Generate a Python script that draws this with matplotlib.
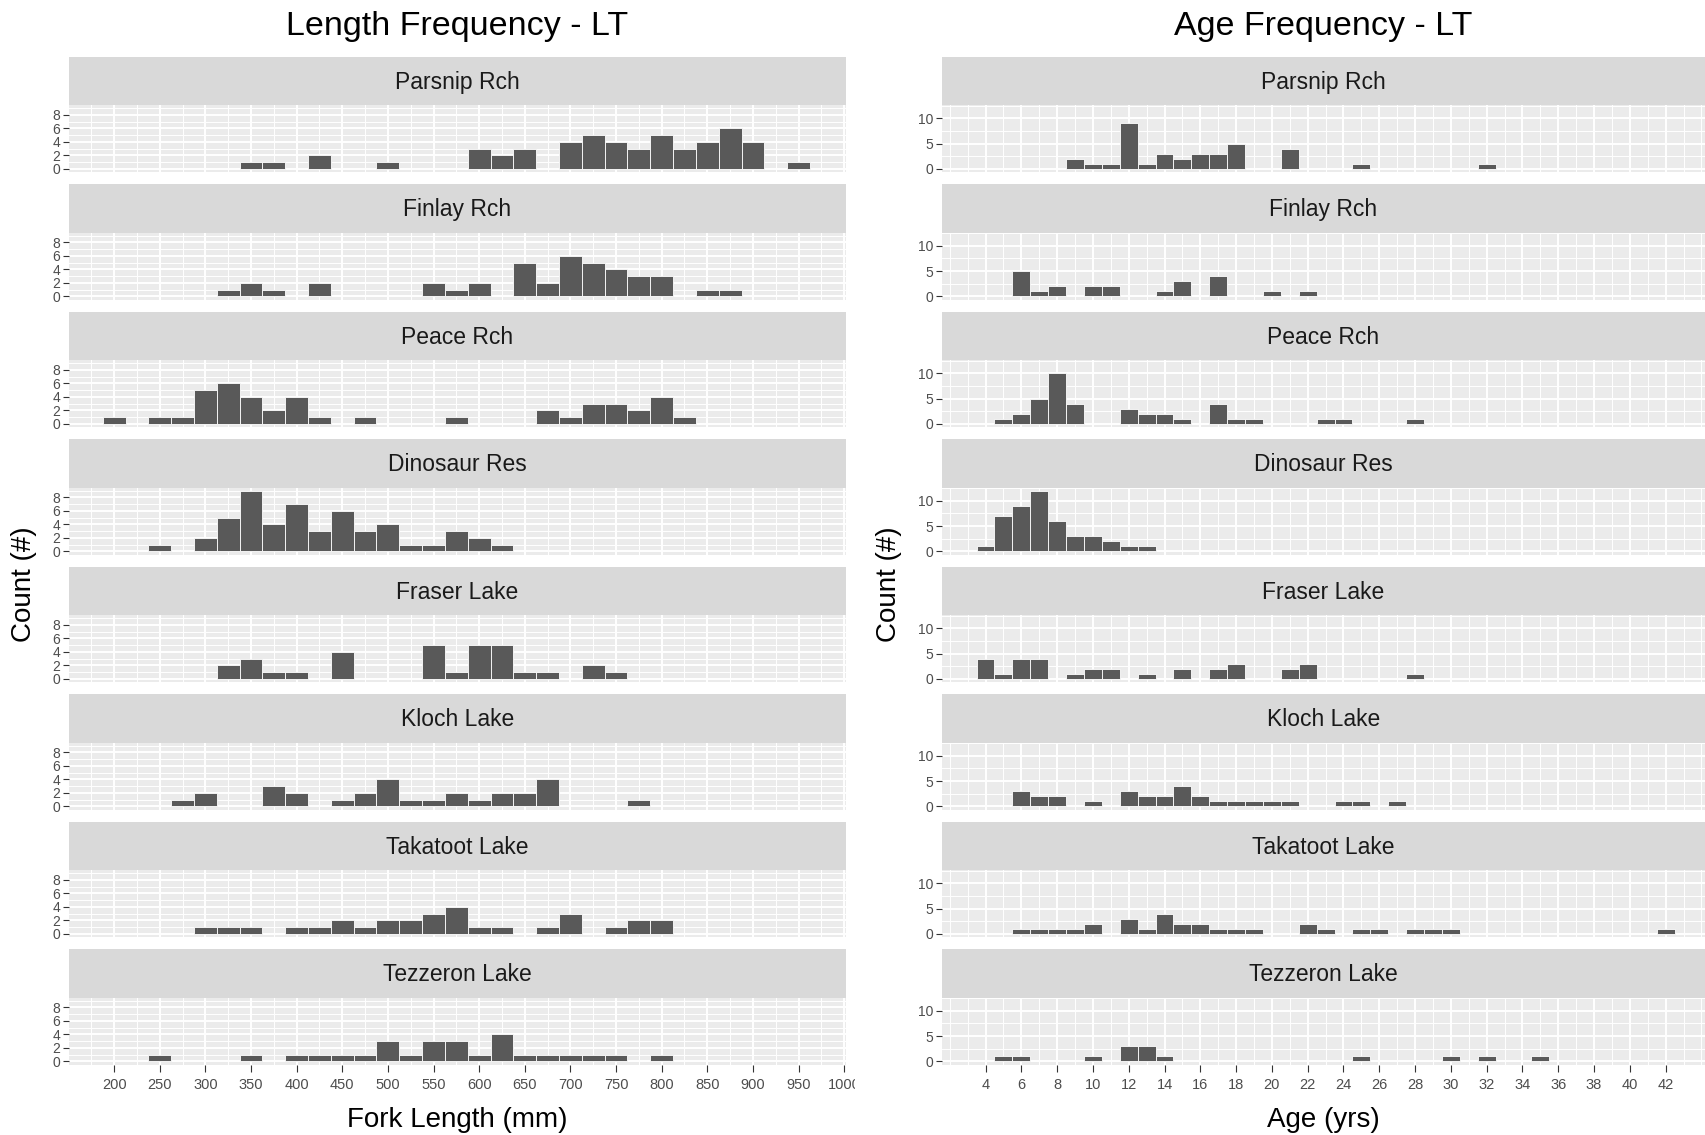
import numpy as np
import matplotlib.pyplot as plt
from matplotlib.transforms import Bbox, TransformedBbox

plt.rcParams['font.family'] = ['Liberation Sans', 'DejaVu Sans']

lakes = ["Parsnip Rch", "Finlay Rch", "Peace Rch", "Dinosaur Res",
         "Fraser Lake", "Kloch Lake", "Takatoot Lake", "Tezzeron Lake"]

# fork length counts, 25 mm bins  {bin centre: count}
len_parsnip = {350: 1, 375: 1, 425: 2, 500: 1, 600: 3, 625: 2, 650: 3, 700: 4, 725: 5,
               750: 4, 775: 3, 800: 5, 825: 3, 850: 4, 875: 6, 900: 4, 950: 1}
len_finlay = {325: 1, 350: 2, 375: 1, 425: 2, 550: 2, 575: 1, 600: 2, 650: 5, 675: 2,
              700: 6, 725: 5, 750: 4, 775: 3, 800: 3, 850: 1, 875: 1}
len_peace = {200: 1, 250: 1, 275: 1, 300: 5, 325: 6, 350: 4, 375: 2, 400: 4, 425: 1,
             475: 1, 575: 1, 675: 2, 700: 1, 725: 3, 750: 3, 775: 2, 800: 4, 825: 1}
len_dinosaur = {250: 1, 300: 2, 325: 5, 350: 9, 375: 4, 400: 7, 425: 3, 450: 6, 475: 3,
                500: 4, 525: 1, 550: 1, 575: 3, 600: 2, 625: 1}
len_fraser = {325: 2, 350: 3, 375: 1, 400: 1, 450: 4, 550: 5, 575: 1, 600: 5, 625: 5,
              650: 1, 675: 1, 725: 2, 750: 1}
len_kloch = {275: 1, 300: 2, 375: 3, 400: 2, 450: 1, 475: 2, 500: 4, 525: 1, 550: 1,
             575: 2, 600: 1, 625: 2, 650: 2, 675: 4, 775: 1}
len_takatoot = {300: 1, 325: 1, 350: 1, 400: 1, 425: 1, 450: 2, 475: 1, 500: 2, 525: 2,
                550: 3, 575: 4, 600: 1, 625: 1, 675: 1, 700: 3, 750: 1, 775: 2, 800: 2}
len_tezzeron = {250: 1, 350: 1, 400: 1, 425: 1, 450: 1, 475: 1, 500: 3, 525: 1, 550: 3,
                575: 3, 600: 1, 625: 4, 650: 1, 675: 1, 700: 1, 725: 1, 750: 1, 800: 1}

# age counts, 1 year bins  {age: count}
age_parsnip = {9: 2, 10: 1, 11: 1, 12: 9, 13: 1, 14: 3, 15: 2, 16: 3, 17: 3, 18: 5,
               21: 4, 25: 1, 32: 1}
age_finlay = {6: 5, 7: 1, 8: 2, 10: 2, 11: 2, 14: 1, 15: 3, 17: 4, 20: 1, 22: 1}
age_peace = {5: 1, 6: 2, 7: 5, 8: 10, 9: 4, 12: 3, 13: 2, 14: 2, 15: 1, 17: 4, 18: 1,
             19: 1, 23: 1, 24: 1, 28: 1}
age_dinosaur = {4: 1, 5: 7, 6: 9, 7: 12, 8: 6, 9: 3, 10: 3, 11: 2, 12: 1, 13: 1}
age_fraser = {4: 4, 5: 1, 6: 4, 7: 4, 9: 1, 10: 2, 11: 2, 13: 1, 15: 2, 17: 2, 18: 3,
              21: 2, 22: 3, 28: 1}
age_kloch = {6: 3, 7: 2, 8: 2, 10: 1, 12: 3, 13: 2, 14: 2, 15: 4, 16: 2, 17: 1, 18: 1,
             19: 1, 20: 1, 21: 1, 24: 1, 25: 1, 27: 1}
age_takatoot = {6: 1, 7: 1, 8: 1, 9: 1, 10: 2, 12: 3, 13: 1, 14: 4, 15: 2, 16: 2, 17: 1,
                18: 1, 19: 1, 22: 2, 23: 1, 25: 1, 26: 1, 28: 1, 29: 1, 30: 1, 42: 1}
age_tezzeron = {5: 1, 6: 1, 10: 1, 12: 3, 13: 3, 14: 1, 25: 1, 30: 1, 32: 1, 35: 1}

length_counts = [len_parsnip, len_finlay, len_peace, len_dinosaur,
                 len_fraser, len_kloch, len_takatoot, len_tezzeron]
age_counts = [age_parsnip, age_finlay, age_peace, age_dinosaur,
              age_fraser, age_kloch, age_takatoot, age_tezzeron]

W, H = 1705, 1135
fig = plt.figure(figsize=(W / 100, H / 100), dpi=100)

# layout in pixels
top0 = 56.5
strip_h = 48.5
panel_h = 67
gap = 12
step = strip_h + panel_h + gap

def box(x0, y0, x1, y1):
    # pixel box (top-left origin) -> figure fraction rect
    return [x0 / W, 1 - y1 / H, (x1 - x0) / W, (y1 - y0) / H]

def facet_column(x0, x1, title, xlabel, counts, width, xlim, xmajor, xminor,
                 ylim, ymajor, yminor, ylab_x):
    axes = []
    for i, (lake, data) in enumerate(zip(lakes, counts)):
        ys = top0 + i * step
        sax = fig.add_axes(box(x0, ys, x1, ys + strip_h))
        sax.set_facecolor('#D9D9D9')
        sax.set_xticks([]); sax.set_yticks([])
        for s in sax.spines.values():
            s.set_visible(False)
        # baseline placed so the capitals sit in the middle of the strip
        sax.text(0.5, 0.5 - 8.2 / strip_h, lake, ha='center', va='baseline',
                 fontsize=16.5, color='#1A1A1A', transform=sax.transAxes)

        ax = fig.add_axes(box(x0, ys + strip_h, x1, ys + strip_h + panel_h))
        ax.set_facecolor('#EBEBEB')
        ax.set_axisbelow(True)
        xs = list(data.keys())
        ns = list(data.values())
        ax.bar(xs, ns, width=width, color='#595959', edgecolor='white', linewidth=0.6)
        ax.set_xlim(*xlim)
        ax.set_ylim(*ylim)
        ax.set_xticks(xmajor)
        ax.set_xticks(xminor, minor=True)
        ax.set_yticks(ymajor)
        ax.set_yticks(yminor, minor=True)
        ax.grid(which='major', color='white', linewidth=1.4)
        ax.grid(which='minor', color='white', linewidth=0.7)
        for s in ax.spines.values():
            s.set_visible(False)
        ax.tick_params(which='minor', length=0)
        ax.tick_params(axis='y', which='major', length=4, width=0.8, color='#333333',
                       labelsize=10, labelcolor='#4D4D4D', pad=2)
        last = i == len(lakes) - 1
        ax.tick_params(axis='x', which='major', length=5 if last else 0, width=0.8,
                       color='#333333', labelsize=10.5, labelcolor='#4D4D4D', pad=5,
                       labelbottom=last)
        axes.append(ax)
    cx = ((x0 + x1) / 2) / W
    fig.text(cx, 1 - 35 / H, title, ha='center', va='baseline', fontsize=24.5, color='black')
    fig.text(cx, 1 - 1127 / H, xlabel, ha='center', va='baseline', fontsize=20, color='black')
    fig.text(ylab_x / W, 1 - 584 / H, "Count (#)", ha='center', va='center',
             rotation=90, fontsize=20, color='black')
    return axes

len_ticks = list(range(200, 1001, 50))
len_minor = list(range(175, 1001, 50))
left_axes = facet_column(68.5, 846, "Length Frequency - LT", "Fork Length (mm)",
                         length_counts, 25, (150, 1002), len_ticks, len_minor,
                         (-0.45, 9.45), [0, 2, 4, 6, 8], [1, 3, 5, 7, 9], 24)

age_ticks = list(range(4, 43, 2))
age_minor = [2, 3] + list(range(5, 44, 2)) + [44]
right_axes = facet_column(941.7, 1705, "Age Frequency - LT", "Age (yrs)",
                          age_counts, 1, (1.55, 44.2), age_ticks, age_minor,
                          (-0.6, 12.6), [0, 5, 10], [2.5, 7.5, 12.5], 889.5)

# the "1000" label is cut at the edge of the left plot area
fig.canvas.draw()
clip = TransformedBbox(Bbox([[0, 0], [855 / W, 1]]), fig.transFigure)
for lab in left_axes[-1].get_xticklabels():
    lab.set_clip_on(True)
    lab.set_clip_box(clip)

fig.savefig('out.png', dpi=100)
